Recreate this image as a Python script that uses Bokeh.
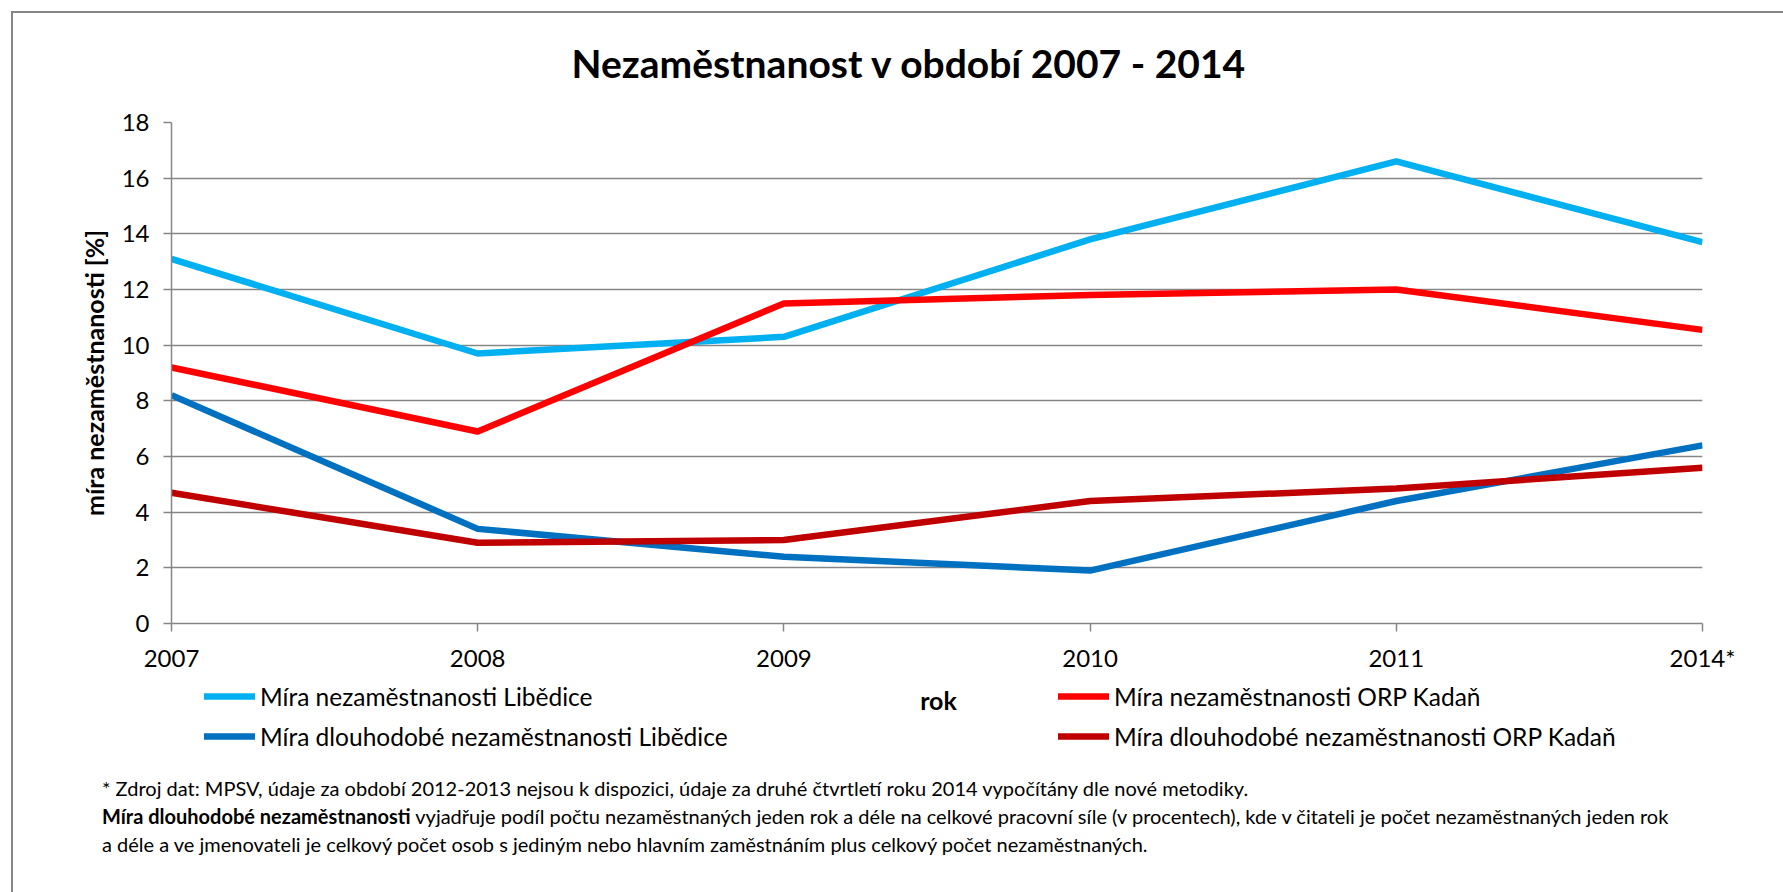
from bokeh.plotting import figure
from bokeh.models import Range1d, FixedTicker, Legend, LegendItem, Title, Div, Label
from bokeh.layouts import column
from bokeh.embed import file_html
from bokeh.resources import INLINE

# ---- data ----
years = ["2007", "2008", "2009", "2010", "2011", "2014*"]
mira_libedice = [13.1, 9.7, 10.3, 13.8, 16.6, 13.7]
mira_kadan = [9.2, 6.9, 11.5, 11.8, 12.0, 10.55]
dlouho_libedice = [8.2, 3.4, 2.4, 1.9, 4.4, 6.4]
dlouho_kadan = [4.7, 2.9, 3.0, 4.4, 4.85, 5.6]
y_ticks = [0, 2, 4, 6, 8, 10, 12, 14, 16, 18]

series_names = [
    "Míra nezaměstnanosti Libědice",
    "Míra nezaměstnanosti ORP Kadaň",
    "Míra dlouhodobé nezaměstnanosti Libědice",
    "Míra dlouhodobé nezaměstnanosti ORP Kadaň",
]
title_text = "Nezaměstnanost v období 2007 - 2014"
x_label = "rok"
y_label = "míra nezaměstnanosti [%]"
foot1 = ("* Zdroj dat: MPSV, údaje za období 2012-2013 nejsou k dispozici, údaje za druhé "
         "čtvrtletí roku 2014 vypočítány dle nové metodiky.")
foot2_bold = "Míra dlouhodobé nezaměstnanosti"
foot2_rest = ("vyjadřuje podíl počtu nezaměstnaných jeden rok a déle na celkové pracovní síle "
              "(v procentech), kde v čitateli je počet nezaměstnaných jeden rok")
foot3 = ("a déle a ve jmenovateli je celkový počet osob s jediným nebo hlavním zaměstnáním "
         "plus celkový počet nezaměstnaných.")

FONT = "Lato"
GRAY = "#868686"
colors = ["#00B0F0", "#FF0000", "#0070C0", "#C00000"]
LW = 6.5

x = list(range(len(years)))
datas = [mira_libedice, mira_kadan, dlouho_libedice, dlouho_kadan]
W = 1783
FRAME_LEFT = 171

# ---------------- main chart ----------------
H1 = 676
p = figure(width=W, height=H1, output_backend="svg", toolbar_location=None,
           x_range=Range1d(0, len(years) - 1), y_range=Range1d(0, 18),
           min_border_left=FRAME_LEFT, min_border_right=81, min_border_top=122,
           min_border_bottom=H1 - 623, outline_line_color=None,
           background_fill_color="white", border_fill_color=None)

p.title = Title(text=title_text, align="left", offset=400, standoff=73,
                text_font=FONT, text_font_style="bold", text_font_size="39px",
                text_color="black")

p.xaxis.ticker = FixedTicker(ticks=x)
p.xaxis.major_label_overrides = {i: yv for i, yv in enumerate(years)}
p.yaxis.ticker = FixedTicker(ticks=y_ticks)
for ax in (p.xaxis[0], p.yaxis[0]):
    ax.axis_line_color = GRAY
    ax.axis_line_width = 1.5
    ax.major_tick_line_color = GRAY
    ax.major_tick_line_width = 1.5
    ax.major_tick_out = 8
    ax.major_tick_in = 0
    ax.minor_tick_line_color = None
    ax.major_label_text_font = FONT
    ax.major_label_text_font_size = "24px"
    ax.major_label_text_color = "black"
p.xaxis.major_label_standoff = 11
p.yaxis.major_label_standoff = 14
p.yaxis.axis_label = y_label
p.yaxis.axis_label_text_font = FONT
p.yaxis.axis_label_text_font_style = "bold"
p.yaxis.axis_label_text_font_size = "25px"
p.yaxis.axis_label_text_color = "black"
p.yaxis.axis_label_standoff = 10

p.xgrid.grid_line_color = None
p.ygrid.grid_line_color = GRAY
p.ygrid.grid_line_width = 1.5

for d, c in zip(datas, colors):
    p.line(x, d, line_color=c, line_width=LW, line_join="round")

# ---------------- legend strip (x-axis title + legend) ----------------
# its frame is aligned with the chart frame (left edge at FRAME_LEFT);
# the ranges keep the series themselves out of view, only the legend keys show
H2 = 94
q = figure(width=W, height=H2, output_backend="svg", toolbar_location=None,
           x_range=Range1d(100, 200), y_range=Range1d(100, 200),
           x_axis_type=None, y_axis_type=None,
           min_border_left=0, min_border_right=0, min_border_top=0, min_border_bottom=0,
           outline_line_color=None, background_fill_color=None, border_fill_color=None)
key_renderers = [q.line(x, d, line_color=c, line_width=LW, line_cap="round")
                 for d, c in zip(datas, colors)]

def make_legend(idx, xloc):
    return Legend(items=[LegendItem(label=series_names[i], renderers=[key_renderers[i]]) for i in idx],
                  location=(xloc, 19), orientation="vertical",
                  glyph_width=51, glyph_height=30, label_height=30, spacing=10,
                  padding=0, margin=0, label_standoff=5,
                  label_text_font=FONT, label_text_font_size="24.5px",
                  label_text_color="black", border_line_color=None,
                  background_fill_alpha=0)

q.add_layout(make_legend((0, 2), 204 - FRAME_LEFT), "center")
q.add_layout(make_legend((1, 3), 1058 - FRAME_LEFT), "center")
q.add_layout(Label(x=938 - FRAME_LEFT, y=H2 - (699 - H1), x_units="screen", y_units="screen",
                   text=x_label, text_font=FONT, text_font_style="bold", text_font_size="25px",
                   text_align="center", text_baseline="middle", text_color="black"))

# ---------------- footnotes (mixed bold / regular) ----------------
foot_html = (
    '<div style="font-family: Lato, sans-serif; font-size: 20px; line-height: 28px; '
    'white-space: nowrap; padding-left: 102px; color: #000;">'
    f'{foot1}<br><b>{foot2_bold}</b> {foot2_rest}<br>{foot3}</div>'
)
top_notes = 774 - (H1 + H2)
notes = Div(text=foot_html, width=W, height=892 - 774, margin=(top_notes, 0, 0, 0))

layout = column(p, q, notes, spacing=0)
layout.styles = {"box-shadow": "inset 11px 11px 0 0 #ffffff, inset 13px 13px 0 0 #868686"}

open("out.html", "w").write(file_html(layout, INLINE))
